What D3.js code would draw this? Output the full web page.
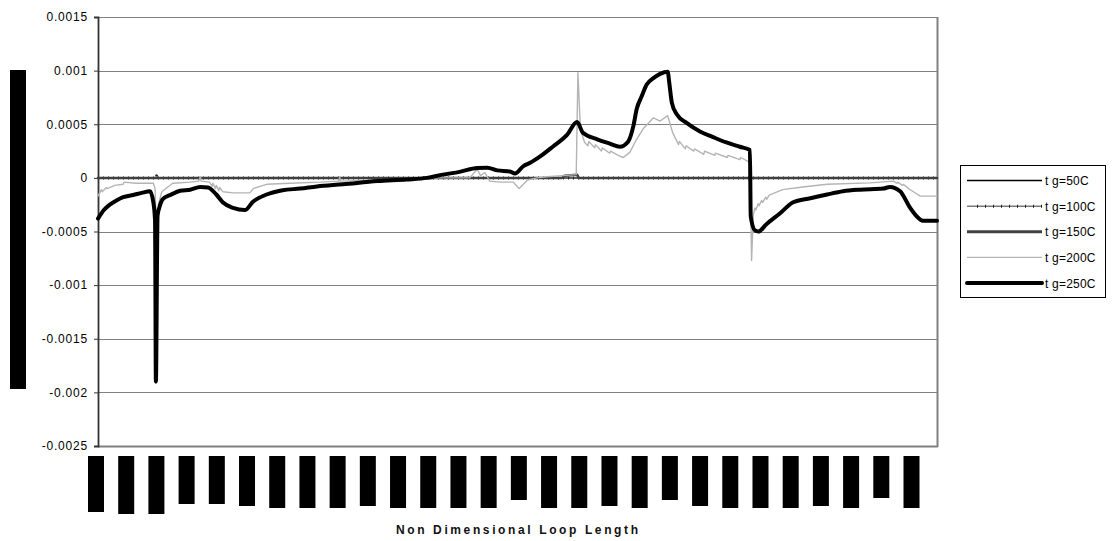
<!DOCTYPE html>
<html>
<head>
<meta charset="utf-8">
<script src="https://cdn.jsdelivr.net/npm/d3@7/dist/d3.min.js"></script>
<style>
  html, body { margin: 0; padding: 0; background: #fff; }
  svg { display: block; font-family: "Liberation Sans", Arial, sans-serif; }
</style>
</head>
<body>
<svg id="chart" width="1115" height="541"></svg>
<script>
// Velocity perturbation along the loop for several heater temperatures.
// x: non-dimensional loop length (0..1), y: value.

const seriesNames = ["t g=50C", "t g=100C", "t g=150C", "t g=200C", "t g=250C"];

const yTicks = [0.0015, 0.001, 0.0005, 0, -0.0005, -0.001, -0.0015, -0.002, -0.0025];
const yTickLabels = ["0.0015", "0.001", "0.0005", "0", "-0.0005", "-0.001", "-0.0015", "-0.002", "-0.0025"];

// category label slots along the x axis (every 0.036 of the loop)
const xLabelSlots = d3.range(28).map(i => i * 0.036);

const tg50 = [[0, 0], [1, 0]];

const tg100 = [[0, 0], [0.069, 0], [0.070, 0.00003], [0.071, 0], [1, 0]];

const tg150 = [[0, 0], [0.553, 0], [0.556, 0.00002], [0.571, 0.00003], [0.573, 0], [1, 0]];

const tg200 = [
  [0.000, -0.00017], [0.004, -0.00011], [0.005, -0.00013], [0.010, -0.00009], [0.011, -0.00010],
  [0.020, -0.00007], [0.030, -0.00006], [0.031, -0.00004], [0.045, -0.00005], [0.066, -0.00005],
  [0.068, -0.00010], [0.070, -0.00056], [0.072, -0.00025], [0.076, -0.00013], [0.089, -0.00005],
  [0.110, -0.00004], [0.120, -0.00003], [0.122, 0.00001], [0.123, -0.00003], [0.133, -0.00004],
  [0.136, -0.00008], [0.137, -0.00005], [0.140, -0.00010], [0.141, -0.00007], [0.144, -0.00012],
  [0.145, -0.00009], [0.149, -0.00013], [0.161, -0.00014], [0.181, -0.00014], [0.185, -0.00010],
  [0.201, -0.00006], [0.229, -0.00005], [0.265, -0.00004], [0.287, -0.00003], [0.288, 0.00001],
  [0.289, -0.00003], [0.336, -0.00002], [0.387, -0.00001], [0.408, 0.0], [0.443, 0.0],
  [0.452, 0.00008], [0.456, 0.00002], [0.461, 0.00005], [0.467, -0.00003], [0.479, -0.00004],
  [0.495, -0.00004], [0.502, -0.00010], [0.512, -0.00002], [0.523, 0.0], [0.535, 0.00001],
  [0.570, 0.00003], [0.572, 0.00098], [0.575, 0.00045], [0.580, 0.00033], [0.584, 0.00030],
  [0.585, 0.00034], [0.592, 0.00028], [0.593, 0.00031], [0.600, 0.00025], [0.601, 0.00028],
  [0.610, 0.00023], [0.611, 0.00025], [0.620, 0.00021], [0.626, 0.00019], [0.634, 0.00024],
  [0.642, 0.00036], [0.650, 0.00046], [0.662, 0.00056], [0.670, 0.00053], [0.679, 0.00058],
  [0.685, 0.00042], [0.692, 0.00031], [0.693, 0.00034], [0.700, 0.00027], [0.701, 0.00030],
  [0.710, 0.00025], [0.711, 0.00027], [0.722, 0.00022], [0.723, 0.00025], [0.735, 0.00021],
  [0.736, 0.00023], [0.750, 0.00019], [0.751, 0.00021], [0.765, 0.00017], [0.766, 0.00019],
  [0.777, 0.000145], [0.779, -0.00077], [0.781, -0.00035], [0.783, -0.00028], [0.784, -0.00030],
  [0.787, -0.00024], [0.788, -0.00026], [0.791, -0.00021], [0.792, -0.00023], [0.796, -0.00018],
  [0.797, -0.00020], [0.800, -0.00016], [0.816, -0.00011], [0.840, -0.000085], [0.869, -0.00006],
  [0.920, -0.000047], [0.948, -0.00003], [0.952, -0.00005], [0.953, -0.00004], [0.959, -0.00007],
  [0.960, -0.00006], [0.966, -0.00010], [0.971, -0.000125], [0.980, -0.00017], [1.000, -0.00017]
];

const tg250 = [
  [0.000, -0.00038], [0.007, -0.00030], [0.014, -0.00025], [0.022, -0.00021], [0.030, -0.00018],
  [0.042, -0.00016], [0.052, -0.00014], [0.062, -0.000125],
  [0.066, -0.00023], [0.068, -0.00040], [0.069, -0.00190], [0.071, -0.00035], [0.073, -0.00028],
  [0.077, -0.00020], [0.086, -0.00016], [0.098, -0.00012], [0.110, -0.00011], [0.122, -0.000085],
  [0.131, -0.00009], [0.141, -0.000155], [0.149, -0.00023], [0.161, -0.00028], [0.175, -0.00030],
  [0.185, -0.00022], [0.201, -0.000155], [0.220, -0.000115], [0.241, -0.00010], [0.261, -0.00008],
  [0.292, -0.00006], [0.333, -0.00003], [0.368, -0.000015], [0.392, 0.0], [0.411, 0.00003],
  [0.431, 0.000056], [0.452, 0.000093], [0.464, 0.000095], [0.476, 0.00007], [0.491, 0.00006],
  [0.497, 0.00004], [0.507, 0.00011], [0.515, 0.00014], [0.527, 0.00020], [0.542, 0.00029],
  [0.559, 0.00040], [0.571, 0.00052], [0.578, 0.00042], [0.595, 0.00036], [0.610, 0.00032],
  [0.622, 0.00029], [0.632, 0.00034], [0.638, 0.00048], [0.642, 0.00064], [0.648, 0.00076],
  [0.654, 0.00087], [0.662, 0.00093], [0.670, 0.00097], [0.679, 0.00099], [0.681, 0.00088],
  [0.684, 0.00070], [0.690, 0.00059], [0.702, 0.00051], [0.718, 0.00043], [0.733, 0.00038],
  [0.749, 0.00033], [0.765, 0.00029], [0.777, 0.00026], [0.778, -0.00036], [0.783, -0.00049],
  [0.787, -0.00050], [0.797, -0.00043], [0.813, -0.00033], [0.828, -0.00023], [0.849, -0.00019],
  [0.869, -0.000155], [0.888, -0.000125], [0.908, -0.00011], [0.936, -0.00010], [0.944, -0.000084],
  [0.956, -0.000125], [0.968, -0.00028], [0.976, -0.00036], [0.983, -0.00040], [1.000, -0.00040]
];

const seriesData = [tg50, tg100, tg150, tg200, tg250];

// ---- layout ----
const plot = { left: 98, right: 937, top: 17, bottom: 446 };
const svg = d3.select("#chart");

const x = d3.scaleLinear().domain([0, 1]).range([plot.left, plot.right]);
const y = d3.scaleLinear().domain([-0.0025, 0.0015]).range([plot.bottom, plot.top]);

// gridlines
svg.append("g")
  .selectAll("line")
  .data(yTicks)
  .join("line")
  .attr("x1", plot.left).attr("x2", plot.right)
  .attr("y1", d => Math.round(y(d)) + 0.5).attr("y2", d => Math.round(y(d)) + 0.5)
  .attr("stroke", "#808080").attr("stroke-width", 1);

// plot frame (right and bottom edges)
svg.append("line")
  .attr("x1", plot.right + 0.5).attr("x2", plot.right + 0.5)
  .attr("y1", plot.top).attr("y2", plot.bottom + 1)
  .attr("stroke", "#808080").attr("stroke-width", 2);
svg.append("line")
  .attr("x1", plot.left).attr("x2", plot.right + 1)
  .attr("y1", Math.round(y(-0.0025)) + 0.5).attr("y2", Math.round(y(-0.0025)) + 0.5)
  .attr("stroke", "#808080").attr("stroke-width", 2);

// y axis
const yAxis = d3.axisLeft(y)
  .tickValues(yTicks)
  .tickFormat((d, i) => yTickLabels[i])
  .tickSize(4)
  .tickPadding(6);
const yAxisG = svg.append("g")
  .attr("transform", `translate(${plot.left},0)`)
  .call(yAxis);
yAxisG.select(".domain").attr("stroke", "#333").attr("stroke-width", 1.8);
yAxisG.selectAll(".tick line").attr("stroke", "#333");
yAxisG.selectAll(".tick text")
  .attr("font-size", 12)
  .attr("letter-spacing", 0.8)
  .attr("fill", "#000")
  .attr("font-family", "'Liberation Sans', Arial, sans-serif");

// y axis title block
svg.append("rect")
  .attr("x", 10).attr("y", 70).attr("width", 16).attr("height", 319)
  .attr("fill", "#000");

// x category label blocks (rotated labels)
const labelBlockBottoms = [512, 514, 514, 504, 504, 506, 508, 508, 508, 506, 508, 508, 508, 508,
                           500, 508, 508, 506, 508, 500, 506, 508, 508, 508, 506, 508, 498, 508];
svg.append("g")
  .selectAll("rect")
  .data(xLabelSlots)
  .join("rect")
  .attr("x", d => x(d) - 10)
  .attr("y", 456)
  .attr("width", 16)
  .attr("height", (d, i) => labelBlockBottoms[i] - 456)
  .attr("fill", "#000");

// x axis title
svg.append("text")
  .attr("x", 396).attr("y", 534)
  .attr("textLength", 242)
  .attr("lengthAdjust", "spacing")
  .attr("font-size", 12)
  .attr("font-weight", "bold")
  .attr("fill", "#111")
  .text("Non Dimensional Loop Length");

// series
const lineStraight = d3.line().x(d => x(d[0])).y(d => y(d[1]));
const lineSmooth = d3.line().x(d => x(d[0])).y(d => y(d[1])).curve(d3.curveMonotoneX);
const styles = [
  { stroke: "#000000", width: 1.6 },
  { stroke: "#7a7a7a", width: 1.5 },
  { stroke: "#404040", width: 2.5 },
  { stroke: "#b4b4b4", width: 1.4 },
  { stroke: "#000000", width: 4 }
];

const seriesG = svg.append("g");
seriesData.forEach((data, i) => {
  seriesG.append("path")
    .datum(data)
    .attr("d", i === 4 ? lineSmooth : lineStraight)
    .attr("fill", "none")
    .attr("stroke", styles[i].stroke)
    .attr("stroke-width", styles[i].width)
    .attr("stroke-linejoin", "round")
    .attr("stroke-linecap", "round");
  if (i === 1) {
    // point markers on the 100C curve
    seriesG.append("path")
      .datum(data)
      .attr("d", lineStraight)
      .attr("fill", "none")
      .attr("stroke", "#222")
      .attr("stroke-width", 3)
      .attr("stroke-dasharray", "1 4");
  }
});

// legend
const legend = svg.append("g");
legend.append("rect")
  .attr("x", 960.5).attr("y", 165.5).attr("width", 145).attr("height", 132)
  .attr("fill", "#fff").attr("stroke", "#000").attr("stroke-width", 1);

const legendRowY = d3.scaleLinear().domain([0, 4]).range([180.5, 283]);
seriesNames.forEach((name, i) => {
  const yy = legendRowY(i);
  legend.append("line")
    .attr("x1", 967).attr("x2", 1042)
    .attr("y1", yy).attr("y2", yy)
    .attr("stroke", styles[i].stroke)
    .attr("stroke-width", i === 4 ? 4 : (i === 2 ? 3 : styles[i].width))
    .attr("stroke-linecap", i === 4 ? "round" : "butt");
  if (i === 1) {
    legend.append("line")
      .attr("x1", 977).attr("x2", 1042)
      .attr("y1", yy).attr("y2", yy)
      .attr("stroke", "#222").attr("stroke-width", 3)
      .attr("stroke-dasharray", "1 7");
  }
  legend.append("text")
    .attr("x", 1045).attr("y", yy + 4.5)
    .attr("font-size", 12)
    .attr("letter-spacing", 0.2)
    .attr("fill", "#000")
    .text(name);
});
</script>
</body>
</html>
